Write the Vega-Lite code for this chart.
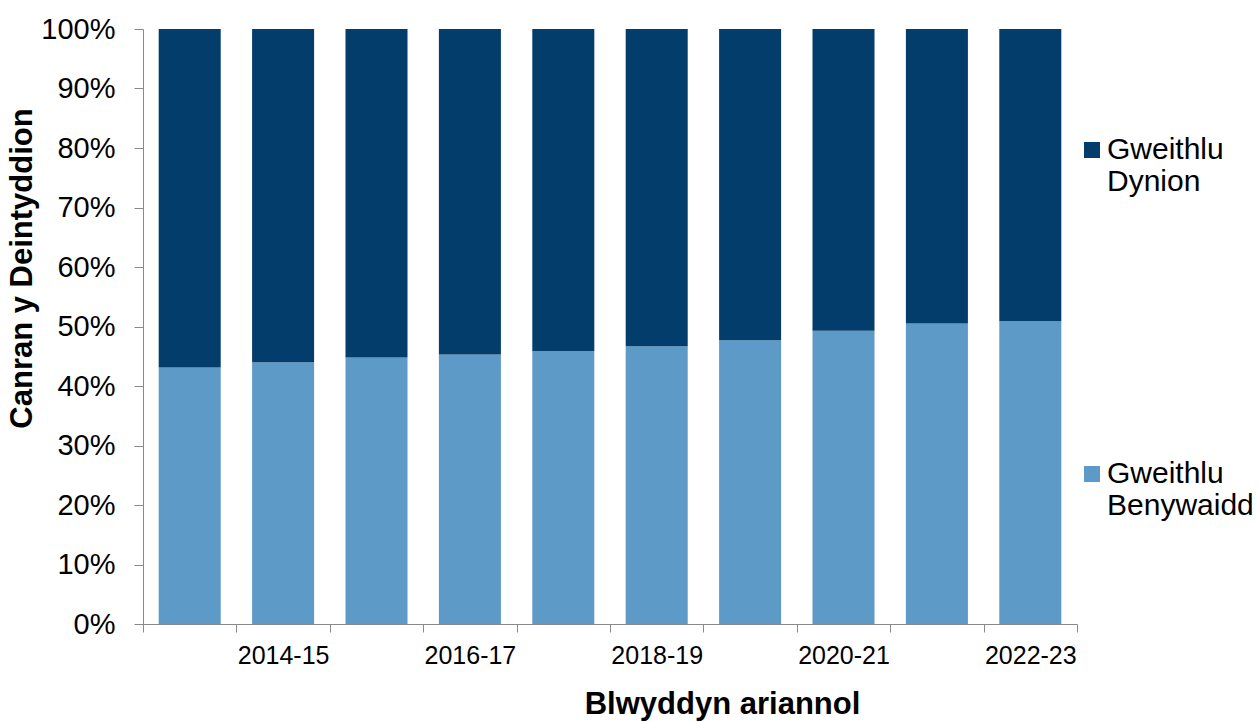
{
  "$schema": "https://vega.github.io/schema/vega-lite/v6.json",
  "width": 934,
  "height": 595,
  "autosize": {"type": "none"},
  "padding": {"left": 143, "top": 29, "right": 181, "bottom": 98},
  "background": "white",
  "config": {"view": {"stroke": null}, "font": "Liberation Sans"},
  "data": {
    "values": [
      {"year": "2013-14", "gender": "Gweithlu Benywaidd", "pct": 43.1},
      {"year": "2013-14", "gender": "Gweithlu Dynion", "pct": 56.9},
      {"year": "2014-15", "gender": "Gweithlu Benywaidd", "pct": 44.0},
      {"year": "2014-15", "gender": "Gweithlu Dynion", "pct": 56.0},
      {"year": "2015-16", "gender": "Gweithlu Benywaidd", "pct": 44.8},
      {"year": "2015-16", "gender": "Gweithlu Dynion", "pct": 55.2},
      {"year": "2016-17", "gender": "Gweithlu Benywaidd", "pct": 45.3},
      {"year": "2016-17", "gender": "Gweithlu Dynion", "pct": 54.7},
      {"year": "2017-18", "gender": "Gweithlu Benywaidd", "pct": 45.9},
      {"year": "2017-18", "gender": "Gweithlu Dynion", "pct": 54.1},
      {"year": "2018-19", "gender": "Gweithlu Benywaidd", "pct": 46.7},
      {"year": "2018-19", "gender": "Gweithlu Dynion", "pct": 53.3},
      {"year": "2019-20", "gender": "Gweithlu Benywaidd", "pct": 47.7},
      {"year": "2019-20", "gender": "Gweithlu Dynion", "pct": 52.3},
      {"year": "2020-21", "gender": "Gweithlu Benywaidd", "pct": 49.3},
      {"year": "2020-21", "gender": "Gweithlu Dynion", "pct": 50.7},
      {"year": "2021-22", "gender": "Gweithlu Benywaidd", "pct": 50.5},
      {"year": "2021-22", "gender": "Gweithlu Dynion", "pct": 49.5},
      {"year": "2022-23", "gender": "Gweithlu Benywaidd", "pct": 50.9},
      {"year": "2022-23", "gender": "Gweithlu Dynion", "pct": 49.1}
    ]
  },
  "mark": {"type": "bar", "width": {"band": 0.664}},
  "encoding": {
    "x": {
      "field": "year",
      "type": "ordinal",
      "sort": null,
      "scale": {"paddingInner": 0, "paddingOuter": 0},
      "axis": {
        "title": "Blwyddyn ariannol",
        "titleFontSize": 31,
        "titleFontWeight": "bold",
        "titleColor": "black",
        "titleX": 579,
        "titleY": 89,
        "titleBaseline": "alphabetic",
        "titleAlign": "center",
        "labelExpr": "indexof(['2014-15','2016-17','2018-19','2020-21','2022-23'], datum.value) >= 0 ? datum.label : ''",
        "labelAngle": 0,
        "labelFontSize": 25,
        "labelColor": "black",
        "labelPadding": 11,
        "labelBaseline": "top",
        "tickBand": "extent",
        "tickSize": 8,
        "tickColor": "#898989",
        "domainColor": "#898989"
      }
    },
    "y": {
      "field": "pct",
      "type": "quantitative",
      "stack": "normalize",
      "scale": {"domain": [0, 1]},
      "axis": {
        "title": "Canran y Deintyddion",
        "format": ".0%",
        "values": [0, 0.1, 0.2, 0.3, 0.4, 0.5, 0.6, 0.7, 0.8, 0.9, 1],
        "titleFontSize": 31,
        "titleFontWeight": "bold",
        "titleColor": "black",
        "titleX": -112,
        "titleY": 239,
        "titleBaseline": "alphabetic",
        "titleAngle": -90,
        "titleAlign": "center",
        "labelFontSize": 29,
        "labelColor": "black",
        "labelPadding": 19,
        "tickSize": 9,
        "tickColor": "#898989",
        "domainColor": "#898989",
        "grid": false
      }
    },
    "color": {
      "field": "gender",
      "type": "nominal",
      "scale": {"domain": ["Gweithlu Dynion", "Gweithlu Benywaidd"], "range": ["#023D6B", "#5D9AC7"]},
      "legend": {
        "title": null,
        "orient": "none",
        "legendX": 934,
        "legendY": 106,
        "padding": 0,
        "symbolType": "square",
        "symbolSize": 256,
        "symbolStrokeWidth": 0,
        "labelFontSize": 30,
        "labelColor": "black",
        "labelExpr": "split(datum.label, ' ')",
        "labelBaseline": "middle",
        "labelOffset": 0,
        "labelLimit": 0,
        "rowPadding": 262
      }
    },
    "order": {"field": "gender", "sort": "ascending"}
  }
}
